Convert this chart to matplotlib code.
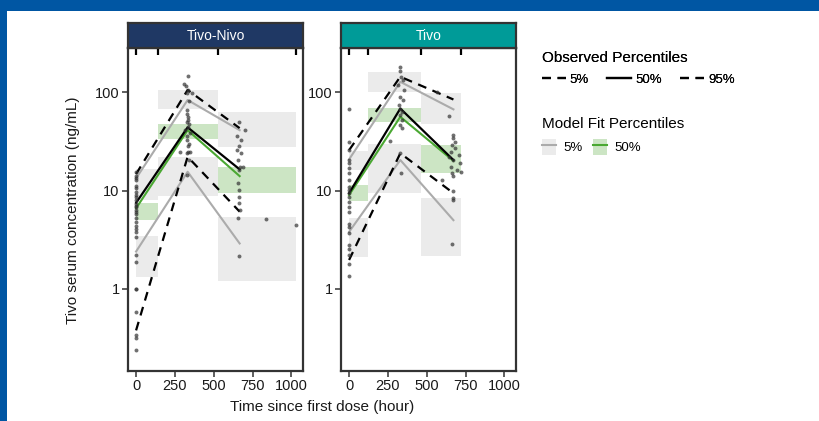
import matplotlib
matplotlib.use("Agg")
import matplotlib.pyplot as plt
from matplotlib.lines import Line2D
from matplotlib.patches import Patch, Rectangle
import matplotlib.transforms as mtransforms

plt.rcParams['font.family'] = ['Liberation Sans', 'DejaVu Sans']

# ---- Tivo-Nivo panel ----
tn_edges = [0, 140, 525, 1028]
tn_time = [0, 332, 667]
tn_obs_p05 = [0.38, 22, 6.1]
tn_obs_p50 = [7.5, 43.8, 16.4]
tn_obs_p95 = [14.7, 105, 43]
tn_mod_p05 = [2.4, 15.5, 2.9]
tn_mod_p50 = [6.6, 41, 14]
tn_mod_p95 = [13.3, 83, 41]
tn_ci05_lo = [1.32, 8.9, 1.21]
tn_ci05_hi = [3.45, 22, 5.4]
tn_ci50_lo = [5.0, 33.6, 9.5]
tn_ci50_hi = [7.47, 47.3, 17.5]
tn_ci95_lo = [8.0, 67, 27.7]
tn_ci95_hi = [16.5, 105, 62]
tn_pts_t = ([0] * 30 +
            [280, 306, 322, 328, 332, 336, 343, 360, 328, 336, 328, 334, 316,
             346, 328, 336, 332, 345, 328, 343, 328, 330, 338, 325, 340, 335] +
            [662, 699, 652, 673, 662, 647, 673, 654, 667, 690, 662, 654, 662,
             662, 662, 667, 654, 662, 835, 1029])
tn_pts_c = ([15.5, 14.0, 13.5, 12.8, 11.1, 10.5, 9.6, 9.0, 8.6, 8.0, 7.3, 7.0,
             6.8, 6.3, 6.0, 5.8, 5.3, 4.8, 4.4, 4.1, 3.8, 3.4, 2.2, 1.88, 1.0,
             1.0, 0.58, 0.34, 0.32, 0.24] +
            [24.8, 120, 114, 97, 145, 105, 81, 97, 66, 56, 50, 44, 41,
             38, 32.6, 28, 24.8, 24.8, 24, 20.4, 14.4, 60, 47, 36, 30, 52] +
            [50, 41, 35.4, 32.6, 28, 25.8, 24, 20.4, 17.5, 17.5, 16.1, 11.8, 10.1,
             8.6, 7.4, 6.3, 5.2, 2.16, 5.1, 4.5])

# ---- Tivo panel ----
tv_edges = [0, 120, 466, 720]
tv_time = [0, 330, 672]
tv_obs_p05 = [1.97, 23.9, 9.4]
tv_obs_p50 = [9.4, 68, 20.4]
tv_obs_p95 = [25.7, 143, 84]
tv_mod_p05 = [3.8, 20.4, 5.0]
tv_mod_p50 = [9.0, 56, 20]
tv_mod_p95 = [20.7, 127, 66.7]
tv_ci05_lo = [2.13, 9.5, 2.16]
tv_ci05_hi = [5.26, 30, 8.3]
tv_ci50_lo = [7.8, 50, 15.2]
tv_ci50_hi = [11.4, 68.8, 29]
tv_ci95_lo = [16.2, 100.7, 47]
tv_ci95_hi = [25, 158, 97.7]
tv_pts_t = ([0] * 23 +
            [330, 330, 333, 346, 317, 356, 330, 346, 324, 330, 339, 330, 339,
             326, 343, 265, 330, 332, 568, 596] +
            [646, 672, 672, 679, 666, 683, 657, 705, 644, 672, 715, 657, 694,
             666, 672, 722, 672, 672, 672, 666])
tv_pts_c = ([68, 31, 25.7, 20.4, 18.9, 16.8, 15, 12.8, 10.9, 10.1, 9.4, 8.6,
             7.7, 6.85, 6.1, 4.6, 4.3, 3.67, 2.8, 2.53, 2.2, 1.78, 1.36] +
            [180, 162, 143, 132, 118, 105, 90, 83, 74, 68, 63, 58, 52,
             46, 43, 32, 24, 15, 99, 12.8] +
            [57, 36.6, 33.8, 31, 29, 27, 24.8, 23, 22, 20.4, 19, 17.5, 16.1,
             15, 13.9, 15.5, 10, 8.4, 8.0, 2.86])

GRAY_BOX = '#EBEBEB'
GREEN_BOX = '#CCE5C4'
GRAY_LINE = '#ABABAB'
GREEN_LINE = '#4AA832'
FRAME = '#333333'

fig = plt.figure(figsize=(8.19, 4.21), dpi=100)

# blue page frame
fig.patches.append(Rectangle((0, 410 / 421), 1, 11 / 421, transform=fig.transFigure,
                             facecolor='#0056A3', edgecolor='none', zorder=0))
fig.patches.append(Rectangle((0, 0), 7 / 819, 1, transform=fig.transFigure,
                             facecolor='#0056A3', edgecolor='none', zorder=0))

panels = [
    ('Tivo-Nivo', '#1F3864', 128, tn_edges, tn_time,
     (tn_obs_p05, tn_obs_p50, tn_obs_p95), (tn_mod_p05, tn_mod_p50, tn_mod_p95),
     ((tn_ci05_lo, tn_ci05_hi), (tn_ci50_lo, tn_ci50_hi), (tn_ci95_lo, tn_ci95_hi)),
     tn_pts_t, tn_pts_c),
    ('Tivo', '#009B98', 341, tv_edges, tv_time,
     (tv_obs_p05, tv_obs_p50, tv_obs_p95), (tv_mod_p05, tv_mod_p50, tv_mod_p95),
     ((tv_ci05_lo, tv_ci05_hi), (tv_ci50_lo, tv_ci50_hi), (tv_ci95_lo, tv_ci95_hi)),
     tv_pts_t, tv_pts_c),
]

W = 819.0
H = 421.0
for i, (name, scol, left_px, edges, t, obs, mod, cis, pt, pc) in enumerate(panels):
    ax = fig.add_axes([left_px / W, (H - 371) / H, 175 / W, 323 / H])
    ax.set_yscale('log')
    ax.set_xlim(-52, 1075)
    ax.set_ylim(0.147, 280)

    # model confidence boxes per time bin
    for (lo, hi), col in zip(cis, (GRAY_BOX, GREEN_BOX, GRAY_BOX)):
        for k in range(len(edges) - 1):
            ax.fill_between([edges[k], edges[k + 1]], lo[k], hi[k],
                            color=col, linewidth=0, zorder=1)

    # model percentile lines
    ax.plot(t, mod[0], color=GRAY_LINE, lw=1.5, zorder=2)
    ax.plot(t, mod[2], color=GRAY_LINE, lw=1.5, zorder=2)
    ax.plot(t, mod[1], color=GREEN_LINE, lw=1.5, zorder=2)

    # observed percentile lines
    ax.plot(t, obs[0], color='black', lw=1.6, dashes=(4, 3), zorder=3)
    ax.plot(t, obs[2], color='black', lw=1.6, dashes=(4, 3), zorder=3)
    ax.plot(t, obs[1], color='black', lw=1.6, zorder=3)

    # observed concentrations
    ax.scatter(pt, pc, s=8, color='#333333', alpha=0.7, linewidths=0, zorder=4)

    # bin edges as short ticks under the strip
    trans = mtransforms.blended_transform_factory(ax.transData, ax.transAxes)
    ax.vlines(edges, 0.978, 1.0, transform=trans, color='black', lw=1.6, zorder=5)

    ax.set_xticks([0, 250, 500, 750, 1000])
    ax.set_xticklabels(['0', '250', '500', '750', '1000'])
    ax.set_yticks([1, 10, 100])
    ax.set_yticklabels(['1', '10', '100'])
    ax.minorticks_off()
    ax.tick_params(axis='both', direction='out', length=4, width=1.1, color=FRAME,
                   labelsize=10.5, labelcolor='#1A1A1A', pad=2)
    for sp in ax.spines.values():
        sp.set_color(FRAME)
        sp.set_linewidth(1.6)

    # facet strip
    sax = fig.add_axes([left_px / W, (H - 48) / H, 175 / W, 25 / H])
    sax.set_facecolor(scol)
    sax.set_xticks([])
    sax.set_yticks([])
    for sp in sax.spines.values():
        sp.set_color(FRAME)
        sp.set_linewidth(1.6)
    sax.text(0.5, 0.5, name, color='white', fontsize=10, ha='center', va='center',
             transform=sax.transAxes)

fig.text(322 / W, (H - 407) / H, 'Time since first dose (hour)', fontsize=11,
         ha='center', va='center', color='#1A1A1A')
fig.text(73 / W, (H - 210) / H, 'Tivo serum concentration (ng/mL)', fontsize=11,
         ha='center', va='center', rotation=90, color='#1A1A1A')

obs_handles = [Line2D([], [], color='black', lw=1.6, dashes=(4, 3)),
               Line2D([], [], color='black', lw=1.6),
               Line2D([], [], color='black', lw=1.6, dashes=(4, 3))]
leg1 = fig.legend(obs_handles, ['5%', '50%', '95%'], title='Observed Percentiles',
                  ncol=3, loc='upper left', bbox_to_anchor=(538 / W, (H - 47) / H),
                  frameon=False, fontsize=9.5, title_fontsize=11, alignment='left',
                  handlelength=1.8, handletextpad=0.3, columnspacing=1.4,
                  borderaxespad=0, borderpad=0.3)
leg1._legend_box.sep = 6
fig.add_artist(leg1)

mod_handles = [(Patch(facecolor=GRAY_BOX, edgecolor='none'),
                Line2D([], [], color=GRAY_LINE, lw=1.5)),
               (Patch(facecolor=GREEN_BOX, edgecolor='none'),
                Line2D([], [], color=GREEN_LINE, lw=1.5))]
leg2 = fig.legend(mod_handles, ['5%', '50%'], title='Model Fit Percentiles',
                  ncol=2, loc='upper left', bbox_to_anchor=(538 / W, (H - 113) / H),
                  frameon=False, fontsize=9.5, title_fontsize=11, alignment='left',
                  handlelength=1.1, handleheight=1.4, handletextpad=0.5,
                  columnspacing=0.8, borderaxespad=0, borderpad=0.3)
leg2._legend_box.sep = 6

fig.savefig('out.png', dpi=100)
